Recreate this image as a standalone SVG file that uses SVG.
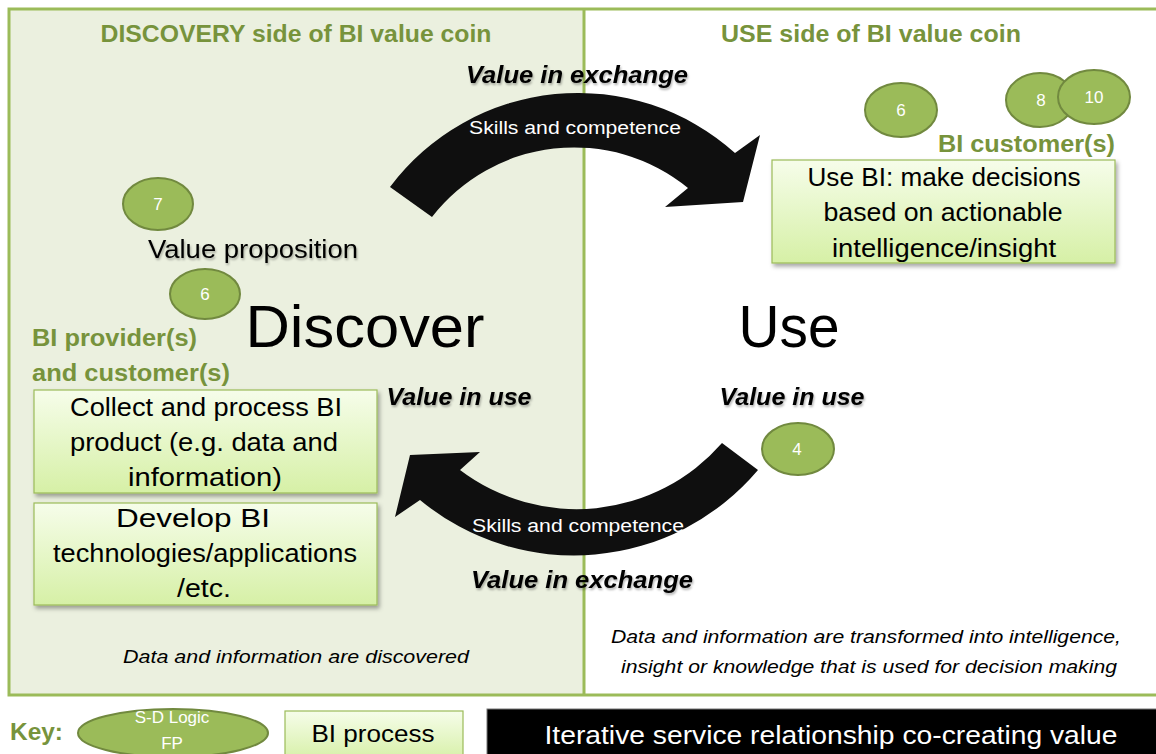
<svg xmlns="http://www.w3.org/2000/svg" width="1156" height="754" viewBox="0 0 1156 754">
<defs>
<linearGradient id="boxg" x1="0" y1="0" x2="0" y2="1">
<stop offset="0" stop-color="#f6fdea"/>
<stop offset="1" stop-color="#d6f0a6"/>
</linearGradient>
<filter id="sh" x="-10%" y="-10%" width="125%" height="130%">
<feDropShadow dx="2" dy="3" stdDeviation="2" flood-color="#000" flood-opacity="0.35"/>
</filter>
<filter id="tsh" x="-5%" y="-20%" width="110%" height="150%">
<feDropShadow dx="1" dy="2" stdDeviation="1.2" flood-color="#000" flood-opacity="0.3"/>
</filter>
<style>
text{font-family:"Liberation Sans",Arial,sans-serif;}
.title{font-size:24px;font-weight:bold;fill:#77933c;text-anchor:middle;}
.olive{font-size:23px;font-weight:bold;fill:#77933c;}
.vbi{font-size:23px;font-weight:bold;font-style:italic;fill:#000;text-anchor:middle;}
.skill{font-size:18px;fill:#fff;text-anchor:middle;}
.big{font-size:60px;fill:#000;text-anchor:middle;}
.boxt{font-size:26px;fill:#000;text-anchor:middle;}
.ital{font-size:18px;font-style:italic;fill:#000;text-anchor:middle;}
.num{font-size:17px;fill:#fff;text-anchor:middle;}
.fp{fill:#9bbb59;stroke:#71893f;stroke-width:2;}
.box{fill:url(#boxg);stroke:#9bbb59;stroke-width:1.2;}
.arrow{fill:#0f0f0f;}
</style>
</defs>

<g id="frame">
<rect x="9" y="9" width="575" height="686" fill="#ebf0df"/>
<rect x="584" y="9" width="580" height="686" fill="#ffffff"/>
<rect x="9" y="9" width="1160" height="686" fill="none" stroke="#9bbb59" stroke-width="3"/>
<line x1="584" y1="9" x2="584" y2="695" stroke="#9bbb59" stroke-width="3"/>
</g>

<g id="connectors">
<path class="arrow" d="M390,187 A235,235 0 0 1 735,153 L760,135 L743,202 L665,207 L688,188 A180,180 0 0 0 432,217 Z"/>
<path class="arrow" d="M758,470 A241,241 0 0 1 420,500 L395,517 L410,455 L480,452 L460,470 A193,193 0 0 0 722,443 Z"/>
<text class="skill" x="575" y="134" textLength="212" lengthAdjust="spacingAndGlyphs">Skills and competence</text>
<text class="skill" x="578" y="532" textLength="212" lengthAdjust="spacingAndGlyphs">Skills and competence</text>
</g>

<g id="titles">
<text class="title" x="296" y="42" textLength="391" lengthAdjust="spacingAndGlyphs">DISCOVERY side of BI value coin</text>
<text class="title" x="871" y="42" textLength="300" lengthAdjust="spacingAndGlyphs">USE side of BI value coin</text>
</g>

<g id="labels">
<text class="vbi" x="577" y="83" textLength="222" lengthAdjust="spacingAndGlyphs" filter="url(#tsh)">Value in exchange</text>
<text class="vbi" x="582" y="588" textLength="222" lengthAdjust="spacingAndGlyphs" filter="url(#tsh)">Value in exchange</text>
<text class="vbi" x="459" y="405" textLength="145" lengthAdjust="spacingAndGlyphs" filter="url(#tsh)">Value in use</text>
<text class="vbi" x="792" y="405" textLength="145" lengthAdjust="spacingAndGlyphs" filter="url(#tsh)">Value in use</text>
<text x="253" y="258" font-size="26" text-anchor="middle" textLength="210" lengthAdjust="spacingAndGlyphs" filter="url(#tsh)">Value proposition</text>
<text class="big" x="365" y="347" textLength="239" lengthAdjust="spacingAndGlyphs">Discover</text>
<text class="big" x="789" y="347" textLength="101" lengthAdjust="spacingAndGlyphs">Use</text>
<text class="olive" x="32" y="346" textLength="165" lengthAdjust="spacingAndGlyphs">BI provider(s)</text>
<text class="olive" x="32" y="381" textLength="198" lengthAdjust="spacingAndGlyphs">and customer(s)</text>
<text class="olive" x="938" y="152" textLength="177" lengthAdjust="spacingAndGlyphs">BI customer(s)</text>
<text class="ital" x="296" y="663" textLength="346" lengthAdjust="spacingAndGlyphs">Data and information are discovered</text>
<text class="ital" x="866" y="643" textLength="510" lengthAdjust="spacingAndGlyphs">Data and information are transformed into intelligence,</text>
<text class="ital" x="869" y="673" textLength="496" lengthAdjust="spacingAndGlyphs">insight or knowledge that is used for decision making</text>
</g>

<g id="box-collect">
<rect class="box" x="34" y="390" width="343" height="103" filter="url(#sh)"/>
<text class="boxt" x="206" y="416" textLength="272" lengthAdjust="spacingAndGlyphs">Collect and process BI</text>
<text class="boxt" x="204" y="451" textLength="268" lengthAdjust="spacingAndGlyphs">product (e.g. data and</text>
<text class="boxt" x="205" y="486" textLength="154" lengthAdjust="spacingAndGlyphs">information)</text>
</g>

<g id="box-develop">
<rect class="box" x="34" y="503" width="343" height="102" filter="url(#sh)"/>
<text class="boxt" x="193" y="527" textLength="154" lengthAdjust="spacingAndGlyphs">Develop BI</text>
<text class="boxt" x="205" y="562" textLength="304" lengthAdjust="spacingAndGlyphs">technologies/applications</text>
<text class="boxt" x="204" y="597" textLength="54" lengthAdjust="spacingAndGlyphs">/etc.</text>
</g>

<g id="box-usebi">
<rect class="box" x="772" y="160" width="343" height="103" filter="url(#sh)"/>
<text class="boxt" x="944" y="186" textLength="273" lengthAdjust="spacingAndGlyphs">Use BI: make decisions</text>
<text class="boxt" x="943" y="221" textLength="239" lengthAdjust="spacingAndGlyphs">based on actionable</text>
<text class="boxt" x="944" y="257" textLength="224" lengthAdjust="spacingAndGlyphs">intelligence/insight</text>
</g>

<g id="fp7"><ellipse class="fp" cx="158" cy="204" rx="35" ry="26"/><text class="num" x="158" y="210">7</text></g>
<g id="fp6-left"><ellipse class="fp" cx="205" cy="294" rx="35" ry="25"/><text class="num" x="205" y="300">6</text></g>
<g id="fp6-right"><ellipse class="fp" cx="901" cy="110" rx="36" ry="27"/><text class="num" x="901" y="116">6</text></g>
<g id="fp8"><ellipse class="fp" cx="1040" cy="100" rx="34" ry="27"/><text class="num" x="1041" y="106">8</text></g>
<g id="fp10"><ellipse class="fp" cx="1094" cy="97" rx="36" ry="27"/><text class="num" x="1094" y="103">10</text></g>
<g id="fp4"><ellipse class="fp" cx="798" cy="449" rx="36" ry="26"/><text class="num" x="797" y="455">4</text></g>

<g id="key">
<text x="10" y="740" font-size="24" font-weight="bold" fill="#77933c" textLength="53" lengthAdjust="spacingAndGlyphs">Key:</text>
<g id="key-fp">
<ellipse class="fp" cx="173" cy="733" rx="95" ry="24"/>
<text x="172" y="723" font-size="17" fill="#fff" text-anchor="middle">S-D Logic</text>
<text x="172" y="749" font-size="17" fill="#fff" text-anchor="middle">FP</text>
</g>
<g id="key-process">
<rect class="box" x="285" y="711" width="178" height="50"/>
<text x="373" y="742" font-size="24" text-anchor="middle" textLength="123" lengthAdjust="spacingAndGlyphs">BI process</text>
</g>
<g id="key-relationship">
<rect x="487" y="709" width="675" height="50" fill="#000" stroke="#777" stroke-width="1"/>
<text x="831" y="744" font-size="26" fill="#fff" text-anchor="middle" textLength="573" lengthAdjust="spacingAndGlyphs">Iterative service relationship co-creating value</text>
</g>
</g>
</svg>
